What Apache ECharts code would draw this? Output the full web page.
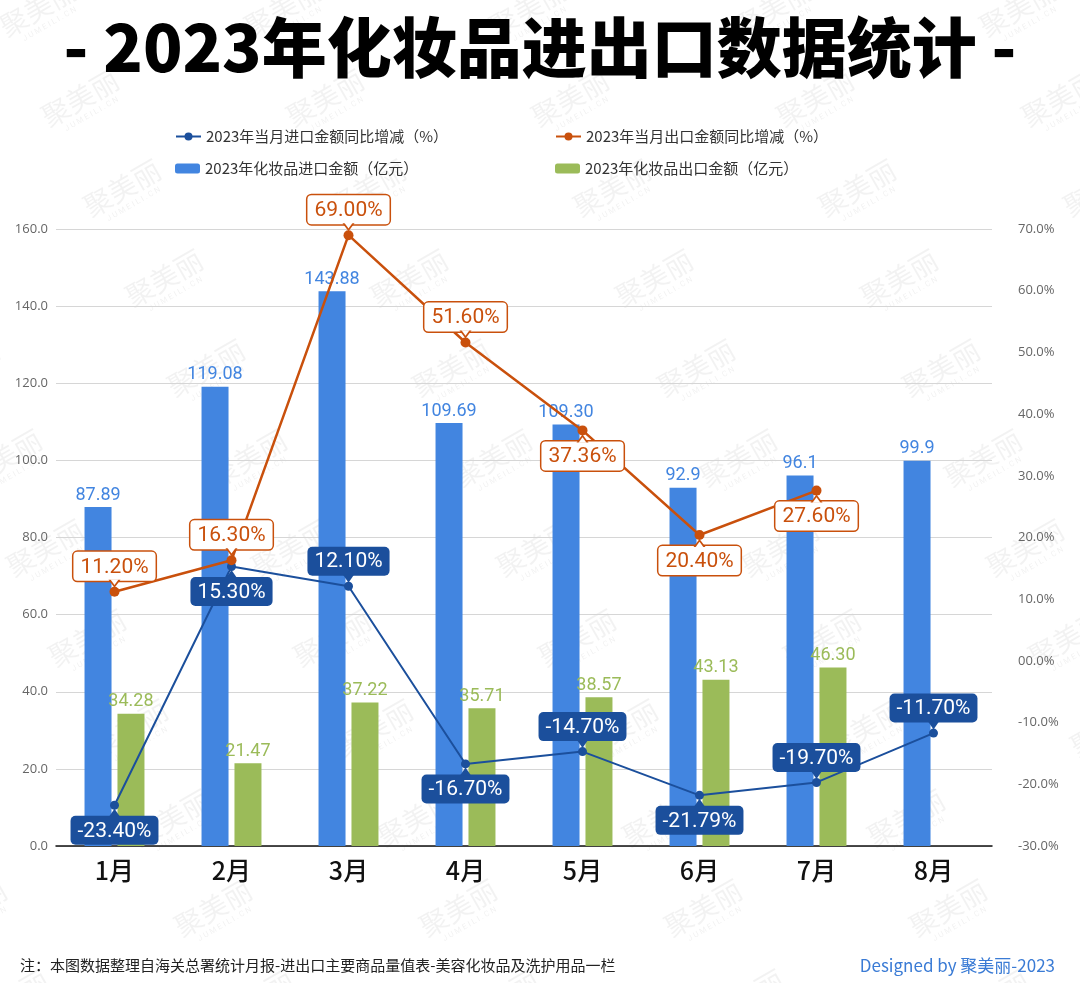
<!DOCTYPE html>
<html>
<head>
<meta charset="utf-8">
<script src="https://cdn.jsdelivr.net/npm/echarts@6/dist/echarts.min.js"></script>
<style>
html,body{margin:0;padding:0;background:#fff;}
#chart{width:1080px;height:983px;}
</style>
</head>
<body>
<div id="chart"></div>
<script>
// ---- data ----
const categories = ['1月', '2月', '3月', '4月', '5月', '6月', '7月', '8月'];
const importValues = [87.89, 119.08, 143.88, 109.69, 109.30, 92.9, 96.1, 99.9];
const importLabels = ['87.89', '119.08', '143.88', '109.69', '109.30', '92.9', '96.1', '99.9'];
const exportValues = [34.28, 21.47, 37.22, 35.71, 38.57, 43.13, 46.30, null];
const exportLabels = ['34.28', '21.47', '37.22', '35.71', '38.57', '43.13', '46.30', ''];
const importYoY = [-23.40, 15.30, 12.10, -16.70, -14.70, -21.79, -19.70, -11.70];
const exportYoY = [11.20, 16.30, 69.00, 51.60, 37.36, 20.40, 27.60, null];
const seriesNames = {
  importYoY: '2023年当月进口金额同比增减（%）',
  exportYoY: '2023年当月出口金额同比增减（%）',
  importVal: '2023年化妆品进口金额（亿元）',
  exportVal: '2023年化妆品出口金额（亿元）'
};
const titleText = '- 2023年化妆品进出口数据统计 -';
const noteText = '注：本图数据整理自海关总署统计月报-进出口主要商品量值表-美容化妆品及洗护用品一栏';
const creditText = 'Designed by 聚美丽-2023';

// ---- label placement (style) ----
const importYoYLabelPos = ['bottom', 'bottom', 'top', 'bottom', 'top', 'bottom', 'top', 'top'];
const exportYoYLabelPos = ['top', 'top', 'top', 'top', 'bottom', 'bottom', 'bottom', 'top'];

const BLUE = '#4285e0';
const GREEN = '#9bbb59';
const NAVY = '#1b4f9c';
const ORANGE = '#c9500c';
const CJK = '"Noto Sans CJK SC", "Noto Sans", sans-serif';
const NUM = 'Roboto, "Noto Sans", sans-serif';
const LABEL_DIST = 6;

const chart = echarts.init(document.getElementById('chart'), null, { renderer: 'canvas' });

// watermark tiles (decoration)
const watermarks = [];
for (let k = -1; k < 12; k++) {
  const y = 8 + 90 * k;
  let x0 = 773 + 42 * k;
  while (x0 > -120) x0 -= 245;
  for (let x = x0; x < 1200; x += 245) {
    watermarks.push({
      type: 'group', x: x, y: y, rotation: Math.PI / 6, z: -10, silent: true,
      children: [
        { type: 'text', style: { text: '聚美丽', x: 0, y: 0, align: 'center', verticalAlign: 'middle',
          fontSize: 28, fontFamily: CJK, fill: 'rgba(0,0,0,0.05)' } },
        { type: 'text', style: { text: 'J U M E I L I . C N', x: 2, y: 20, align: 'center', verticalAlign: 'middle',
          fontSize: 8, fontFamily: NUM, fill: 'rgba(0,0,0,0.06)' } }
      ]
    });
  }
}

function legendAt(name, left, top) {
  return {
    data: [name], left: left, top: top, itemWidth: 25, itemHeight: 10, itemGap: 10,
    textStyle: { fontSize: 15, color: '#333', fontFamily: CJK }
  };
}

// callout pointer series (small triangles joining label boxes to points)
function pointerSeries(values, positions, color, size, offset, z) {
  return {
    type: 'scatter', yAxisIndex: 1, z: z, silent: true, legendHoverLink: false,
    data: values.map((v, i) => v == null ? null : {
      value: v,
      symbolRotate: positions[i] === 'top' ? 180 : 0,
      symbolOffset: [0, positions[i] === 'top' ? -offset : offset]
    }),
    symbol: 'triangle', symbolSize: size,
    itemStyle: { color: color, opacity: 1 },
    label: { show: false }, tooltip: { show: false }
  };
}

const option = {
  backgroundColor: '#fff',
  animation: false,
  title: [
    { text: titleText, left: 'center', top: 10,
      textStyle: { fontSize: 65, fontWeight: 900, color: '#000', fontFamily: CJK } },
    { text: noteText, left: 15, top: 953,
      textStyle: { fontSize: 15, fontWeight: 'normal', color: '#222', fontFamily: CJK } },
    { text: creditText, right: 20, top: 952,
      textStyle: { fontSize: 17, fontWeight: 'normal', color: '#3a7bd5', fontFamily: CJK } }
  ],
  legend: [
    legendAt(seriesNames.importYoY, 170, 124),
    legendAt(seriesNames.exportYoY, 550, 124),
    legendAt(seriesNames.importVal, 170, 156),
    legendAt(seriesNames.exportVal, 550, 156)
  ],
  graphic: { elements: watermarks },
  grid: { left: 56, right: 88, top: 229, bottom: 137 },
  xAxis: {
    type: 'category', data: categories,
    axisLine: { lineStyle: { color: '#111', width: 1.5 } },
    axisTick: { show: false },
    axisLabel: { fontSize: 25, color: '#111', margin: 12, fontFamily: CJK, fontWeight: 500 }
  },
  yAxis: [
    { type: 'value', min: 0, max: 160, interval: 20,
      axisLine: { show: false }, axisTick: { show: false },
      axisLabel: { formatter: v => v.toFixed(1), fontSize: 13, color: '#666', margin: 8, fontFamily: '"Open Sans", sans-serif' },
      splitLine: { lineStyle: { color: '#d6d6d6', width: 1 } } },
    { type: 'value', min: -30, max: 70, interval: 10,
      axisLine: { show: false }, axisTick: { show: false },
      axisLabel: { formatter: v => (v === 0 ? '00.0' : v.toFixed(1)) + '%', fontSize: 13, color: '#666', margin: 26, fontFamily: '"Open Sans", sans-serif' },
      splitLine: { show: false } }
  ],
  series: [
    { name: seriesNames.importVal, type: 'bar', yAxisIndex: 0, data: importValues,
      barWidth: 27, barGap: '22%', itemStyle: { color: BLUE },
      label: { show: true, position: 'top', distance: 3, fontSize: 18, color: BLUE, fontFamily: NUM,
        formatter: p => importLabels[p.dataIndex] } },
    { name: seriesNames.exportVal, type: 'bar', yAxisIndex: 0, data: exportValues,
      barWidth: 27, itemStyle: { color: GREEN },
      label: { show: true, position: 'top', distance: 3, fontSize: 18, color: GREEN, fontFamily: NUM,
        formatter: p => exportLabels[p.dataIndex] } },
    { name: seriesNames.importYoY, type: 'line', yAxisIndex: 1, z: 5,
      data: importYoY.map((v, i) => ({ value: v, label: { position: importYoYLabelPos[i] } })),
      symbol: 'circle', symbolSize: 9, lineStyle: { color: NAVY, width: 2 }, itemStyle: { color: NAVY },
      label: { show: true, distance: LABEL_DIST, fontSize: 21, color: '#fff', fontFamily: NUM,
        backgroundColor: NAVY, borderRadius: 5, padding: [5, 7, 3, 7],
        formatter: p => p.value.toFixed(2) + '%' } },
    { name: seriesNames.exportYoY, type: 'line', yAxisIndex: 1, z: 6,
      data: exportYoY.map((v, i) => ({ value: v, label: { position: exportYoYLabelPos[i] } })),
      symbol: 'circle', symbolSize: 10, lineStyle: { color: ORANGE, width: 2.5 }, itemStyle: { color: ORANGE },
      label: { show: true, distance: LABEL_DIST, fontSize: 21, color: ORANGE, fontFamily: NUM,
        backgroundColor: '#fff', borderColor: ORANGE, borderWidth: 1.5, borderRadius: 4, padding: [5, 7, 3, 7],
        formatter: p => p.value == null ? '' : p.value.toFixed(2) + '%' } },
    pointerSeries(importYoY, importYoYLabelPos, NAVY, [11, 8], 7.5, 20),
    pointerSeries(exportYoY, exportYoYLabelPos, ORANGE, [12, 8], 8, 21),
    pointerSeries(exportYoY, exportYoYLabelPos, '#fff', [8, 5.5], 9.5, 22)
  ]
};
chart.setOption(option);
</script>
</body>
</html>
